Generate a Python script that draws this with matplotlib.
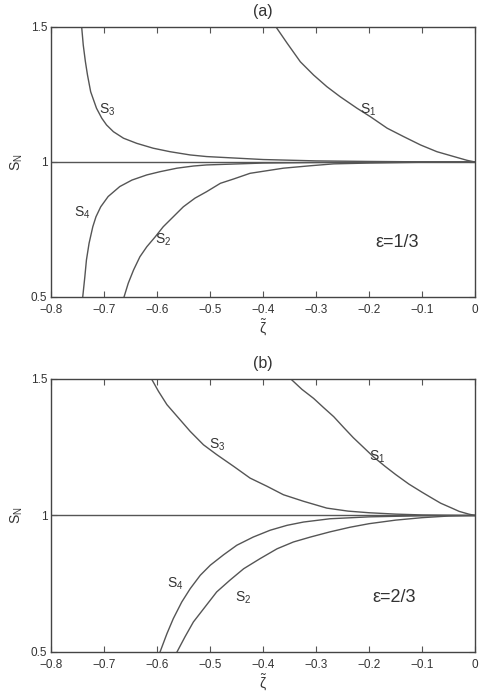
import matplotlib
matplotlib.use("Agg")
import matplotlib.pyplot as plt

plt.rcParams['font.family'] = ['Liberation Sans', 'DejaVu Sans']
plt.rcParams['mathtext.fontset'] = 'custom'
plt.rcParams['mathtext.rm'] = 'Liberation Sans'
plt.rcParams['mathtext.it'] = 'Liberation Sans'

# panel (a), eps = 1/3
a_s1_x = [-0.376, -0.355, -0.330, -0.305, -0.280, -0.255, -0.223, -0.198, -0.166, -0.135,
          -0.103, -0.072, -0.040, -0.015, 0.0]
a_s1_y = [1.5, 1.440, 1.371, 1.322, 1.279, 1.242, 1.199, 1.168, 1.125, 1.094,
          1.063, 1.038, 1.020, 1.006, 1.0]
a_s3_x = [-0.743, -0.740, -0.736, -0.732, -0.726, -0.715, -0.705, -0.696, -0.683, -0.664,
          -0.639, -0.608, -0.576, -0.538, -0.507, -0.4, -0.3, -0.2, -0.1, 0.0]
a_s3_y = [1.5, 1.433, 1.372, 1.322, 1.260, 1.199, 1.162, 1.137, 1.112, 1.088,
          1.069, 1.051, 1.038, 1.026, 1.020, 1.009, 1.004, 1.002, 1.0005, 1.0]
a_s4_x = [-0.741, -0.737, -0.734, -0.729, -0.722, -0.716, -0.707, -0.693, -0.671, -0.648,
          -0.620, -0.595, -0.563, -0.532, -0.507, -0.4, -0.3, -0.2, 0.0]
a_s4_y = [0.5, 0.575, 0.637, 0.699, 0.760, 0.797, 0.834, 0.872, 0.909, 0.933,
          0.952, 0.964, 0.977, 0.985, 0.989, 0.996, 0.998, 0.999, 1.0]
a_s2_x = [-0.663, -0.655, -0.645, -0.633, -0.620, -0.604, -0.589, -0.570, -0.551, -0.529,
          -0.507, -0.481, -0.456, -0.425, -0.362, -0.311, -0.267, -0.2, -0.1, 0.0]
a_s2_y = [0.5, 0.551, 0.600, 0.649, 0.686, 0.723, 0.760, 0.797, 0.834, 0.866,
          0.890, 0.921, 0.937, 0.958, 0.977, 0.986, 0.993, 0.996, 0.999, 1.0]

# panel (b), eps = 2/3
b_s1_x = [-0.348, -0.327, -0.305, -0.286, -0.267, -0.248, -0.230, -0.211, -0.192, -0.170,
          -0.150, -0.125, -0.100, -0.080, -0.065, -0.045, -0.030, -0.012, 0.0]
b_s1_y = [1.5, 1.462, 1.429, 1.395, 1.362, 1.322, 1.285, 1.250, 1.215, 1.180,
          1.150, 1.115, 1.085, 1.062, 1.045, 1.028, 1.015, 1.005, 1.0]
b_s3_x = [-0.611, -0.598, -0.582, -0.560, -0.538, -0.513, -0.488, -0.456, -0.425, -0.393,
          -0.362, -0.324, -0.280, -0.240, -0.2, -0.15, -0.1, 0.0]
b_s3_y = [1.5, 1.455, 1.406, 1.357, 1.308, 1.259, 1.223, 1.180, 1.137, 1.107,
          1.076, 1.052, 1.027, 1.016, 1.010, 1.005, 1.002, 1.0]
b_s4_x = [-0.595, -0.582, -0.570, -0.554, -0.538, -0.519, -0.500, -0.475, -0.450, -0.419,
          -0.387, -0.355, -0.324, -0.274, -0.2, -0.1, 0.0]
b_s4_y = [0.5, 0.567, 0.622, 0.683, 0.732, 0.781, 0.818, 0.856, 0.891, 0.921,
          0.946, 0.964, 0.976, 0.988, 0.995, 0.999, 1.0]
b_s2_x = [-0.563, -0.548, -0.532, -0.510, -0.488, -0.463, -0.437, -0.406, -0.374, -0.343,
          -0.311, -0.274, -0.236, -0.2, -0.15, -0.1, -0.05, 0.0]
b_s2_y = [0.5, 0.555, 0.610, 0.665, 0.720, 0.763, 0.805, 0.842, 0.878, 0.903,
          0.921, 0.940, 0.957, 0.970, 0.983, 0.992, 0.998, 1.0]

flat_x = [-0.8, 0.0]
flat_y = [1.0, 1.0]

xticks = [-0.8, -0.7, -0.6, -0.5, -0.4, -0.3, -0.2, -0.1, 0]
xlabels = ['\u22120.8', '\u22120.7', '\u22120.6', '\u22120.5', '\u22120.4', '\u22120.3', '\u22120.2', '\u22120.1', '0']
yticks = [0.5, 1, 1.5]
ylabels = ['0.5', '1', '1.5']

col = '#555555'

fig = plt.figure(figsize=(4.83, 6.95), dpi=100)
ax1 = fig.add_axes([0.1066, 0.5727, 0.877, 0.3885])
ax2 = fig.add_axes([0.1066, 0.0619, 0.877, 0.3928])

panels = [
    (ax1, '(a)', [(a_s1_x, a_s1_y), (a_s3_x, a_s3_y), (a_s4_x, a_s4_y), (a_s2_x, a_s2_y)],
     [('1', -0.202, 1.193), ('3', -0.695, 1.193), ('4', -0.742, 0.811), ('2', -0.589, 0.711)],
     '\u03b5=1/3', (-0.147, 0.70)),
    (ax2, '(b)', [(b_s1_x, b_s1_y), (b_s3_x, b_s3_y), (b_s4_x, b_s4_y), (b_s2_x, b_s2_y)],
     [('1', -0.185, 1.214), ('3', -0.487, 1.258), ('4', -0.567, 0.749), ('2', -0.438, 0.700)],
     '\u03b5=2/3', (-0.153, 0.698)),
]

for ax, title, curves, labs, eps, epspos in panels:
    ax.plot(flat_x, flat_y, color=col, lw=1.0)
    for cx, cy in curves:
        ax.plot(cx, cy, color=col, lw=1.0)
    for n, lx, ly in labs:
        ax.text(lx, ly, r'$\mathrm{S}_{%s}$' % n, fontsize=10, color='#333333',
                ha='center', va='center')
    ax.text(epspos[0], epspos[1], eps, fontsize=13, color='#333333', ha='center', va='center')
    ax.set_xlim(-0.8, 0)
    ax.set_ylim(0.5, 1.5)
    ax.set_xticks(xticks)
    ax.set_xticklabels(xlabels, fontsize=8.5, color='#333333')
    ax.set_yticks(yticks)
    ax.set_yticklabels(ylabels, fontsize=8.5, color='#333333')
    ax.tick_params(direction='in', top=True, right=True, length=4, width=0.8,
                   color='#555555')
    ax.tick_params(axis='x', pad=5)
    ax.tick_params(axis='y', pad=3)
    for sp in ax.spines.values():
        sp.set_color('#444444')
        sp.set_linewidth(1.0)
    ax.set_title(title, fontsize=11.5, color='#333333', pad=8)
    ax.set_xlabel(r'$\tilde{\zeta}$', fontsize=10, color='#333333', labelpad=1)
    ax.set_ylabel(r'$\mathrm{S}_{N}$', fontsize=10, color='#333333', labelpad=4)

fig.savefig('out.png', dpi=100)
